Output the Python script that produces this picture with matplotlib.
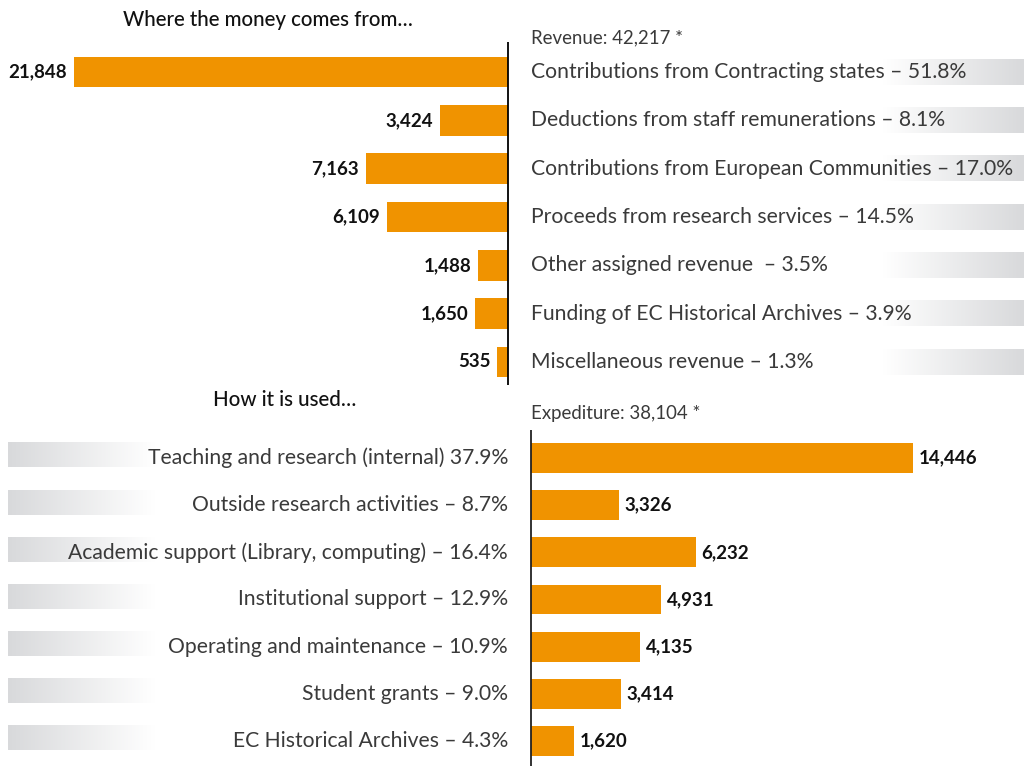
import numpy as np
import matplotlib
matplotlib.use("Agg")
import matplotlib.pyplot as plt
from matplotlib.colors import LinearSegmentedColormap

# revenue (top block)
rev_labels = [
    "Contributions from Contracting states \u2013 51.8%",
    "Deductions from staff remunerations \u2013 8.1%",
    "Contributions from European Communities \u2013 17.0%",
    "Proceeds from research services \u2013 14.5%",
    "Other assigned revenue  \u2013 3.5%",
    "Funding of EC Historical Archives \u2013 3.9%",
    "Miscellaneous revenue \u2013 1.3%",
]
rev_values = [21848, 3424, 7163, 6109, 1488, 1650, 535]

# expenditure (bottom block)
exp_labels = [
    "Teaching and research (internal) 37.9%",
    "Outside research activities \u2013 8.7%",
    "Academic support (Library, computing) \u2013 16.4%",
    "Institutional support \u2013 12.9%",
    "Operating and maintenance \u2013 10.9%",
    "Student grants \u2013 9.0%",
    "EC Historical Archives \u2013 4.3%",
]
exp_values = [14446, 3326, 6232, 4931, 4135, 3414, 1620]

rev_title = "Revenue: 42,217 *"
exp_title = "Expediture: 38,104 *"

ORANGE = "#f09300"
W, H = 1024, 766

plt.rcParams['font.family'] = ['Lato', 'DejaVu Sans']

fig = plt.figure(figsize=(W / 100, H / 100), dpi=100)

grad_r = LinearSegmentedColormap.from_list("gr", ["#ffffff", "#d8d9db"])
grad_l = LinearSegmentedColormap.from_list("gl", ["#d8d9db", "#ffffff"])
ramp = np.linspace(0, 1, 256).reshape(1, -1)

LAB_SIZE = 15.2
VAL_SIZE = 13.5


def px_axes(top, bottom):
    return fig.add_axes([0, 1 - bottom / H, 1, (bottom - top) / H])


# ---- top: where the money comes from ----
ax1 = px_axes(42, 385)
k1 = 0.01987  # px per unit
x0_1 = 508
n = len(rev_values)
y = np.arange(n)
ax1.barh(y, rev_values, height=0.64, color=ORANGE, zorder=2)
ax1.axvline(0, color="black", lw=1.3, zorder=3)
for i, (v, lab) in enumerate(zip(rev_values, rev_labels)):
    ax1.annotate(f"{v:,}", (v, i), xytext=(-5, 0), textcoords="offset points",
                 ha="right", va="center", fontsize=VAL_SIZE, fontweight="bold",
                 color="#111111")
    ax1.annotate(lab, (0, i), xytext=(16.5, 0), textcoords="offset points",
                 ha="left", va="center", fontsize=LAB_SIZE,
                 color="#3a3a3a", zorder=4)
    ax1.imshow(ramp, cmap=grad_r, aspect="auto", zorder=1,
               extent=(-(883 - x0_1) / k1, -(W - x0_1) / k1, i + 0.26, i - 0.26))
ax1.set_xlim(x0_1 / k1, -(W - x0_1) / k1)
ax1.set_ylim(6 + 23 / 48.33, -30 / 48.33)
ax1.axis("off")

# ---- bottom: how it is used ----
ax2 = px_axes(430, 766)
k2 = 0.02644
x0_2 = 531
ax2.barh(y, exp_values, height=0.636, color=ORANGE, zorder=2)
ax2.axvline(0, color="#222222", lw=1.3, zorder=3)
for i, (v, lab) in enumerate(zip(exp_values, exp_labels)):
    ax2.annotate(f"{v:,}", (v, i), xytext=(4, 0), textcoords="offset points",
                 ha="left", va="center", fontsize=VAL_SIZE, fontweight="bold",
                 color="#111111")
    ax2.annotate(lab, (0, i), xytext=(-16.5, 0), textcoords="offset points",
                 ha="right", va="center", fontsize=LAB_SIZE,
                 color="#3a3a3a", zorder=4)
    ax2.imshow(ramp, cmap=grad_l, aspect="auto", zorder=1,
               extent=(-(x0_2 - 8) / k2, -(x0_2 - 155) / k2, i - 0.06 + 0.26, i - 0.06 - 0.26))
ax2.set_xlim(-x0_2 / k2, (W - x0_2) / k2)
ax2.set_ylim(6 + 25 / 47.17, -28 / 47.17)
ax2.axis("off")

# titles
fig.text(268 / W, 1 - 20 / H, "Where the money comes from\u2026", ha="center", va="center",
         fontsize=14.8, fontweight="medium", color="#111111")
fig.text(285 / W, 1 - 400 / H, "How it is used\u2026", ha="center", va="center",
         fontsize=14.8, fontweight="medium", color="#111111")
fig.text(531 / W, 1 - 38 / H, rev_title, ha="left", va="center",
         fontsize=13.4, color="#3a3a3a")
fig.text(531 / W, 1 - 413 / H, exp_title, ha="left", va="center",
         fontsize=13.4, color="#3a3a3a")

fig.savefig("out.png", dpi=100)
